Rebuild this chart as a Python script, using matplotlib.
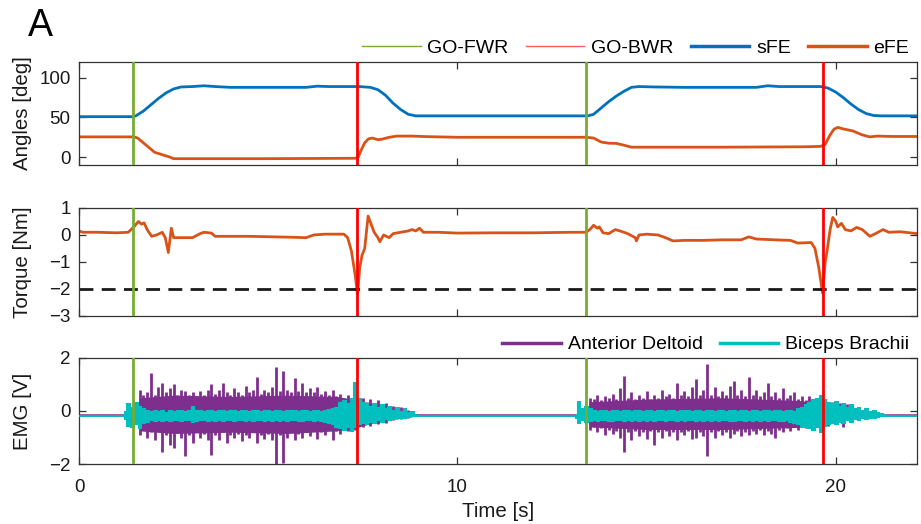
import numpy as np
import matplotlib
matplotlib.use('Agg')
from matplotlib import pyplot as plt
from matplotlib.lines import Line2D

plt.rcParams['font.family'] = ['Liberation Sans', 'DejaVu Sans']

# event times [s]
go_fwr = [1.43, 13.41]
go_bwr = [7.34, 19.65]

# joint angles [deg]
sfe_t = [0, 1.43, 1.5, 1.7, 1.9, 2.1, 2.3, 2.5, 2.7, 3.0, 3.3, 3.6, 4.0, 5.0, 6.0, 6.3, 6.6, 7.4, 7.7,
         7.9, 8.1, 8.3, 8.5, 8.7, 8.9, 9.2, 13.45, 13.6, 13.8, 14.0, 14.2, 14.4, 14.6, 14.8, 15.2, 16.0,
         17.0, 17.9, 18.2, 18.5, 19.6, 19.8, 20.0, 20.2, 20.4, 20.6, 20.8, 21.0, 21.2, 22.15]
sfe_v = [51, 51, 52, 58, 66, 74, 81, 86, 88.5, 89, 90, 89, 88, 88, 88, 89.5, 89, 89, 88,
         85, 78, 68, 60, 54, 52, 52, 52, 54, 62, 70, 77, 83, 88, 89, 88.5, 88,
         88, 88, 90, 89, 89, 87, 82, 75, 67, 60, 55, 52.5, 52, 52]
efe_t = [0, 1.45, 1.55, 1.7, 1.9, 2.0, 2.2, 2.4, 2.5, 3.0, 5.0, 7.3, 7.38, 7.45, 7.55, 7.65, 7.75, 7.9,
         8.0, 8.2, 8.4, 8.8, 9.2, 10.0, 13.41, 13.6, 13.8, 14.0, 14.2, 14.4, 14.6, 15.5, 17.0, 19.2,
         19.6, 19.72, 19.85, 19.95, 20.05, 20.2, 20.45, 20.7, 20.9, 21.1, 21.5, 22.15]
efe_v = [25.5, 25.5, 24, 18, 10, 6, 3, 0, -2, -2, -2, -1.5, 0, 8, 18, 23, 24, 22,
         22.5, 25, 26.5, 26.5, 25.8, 25, 25, 24, 19, 17.5, 17.3, 15, 12.5, 12.5, 12.5, 13,
         13.5, 16, 28, 35, 37.5, 35.5, 33, 28, 25.5, 26.5, 26, 26]

# elbow torque [Nm]
tq_t = [0.0, 0.1, 0.5, 1.0, 1.3, 1.45, 1.57, 1.65, 1.72, 1.8, 1.92, 2.05, 2.2, 2.28, 2.36, 2.4, 2.44,
        2.5, 3.0, 3.2, 3.3, 3.5, 3.6, 4.5, 5.5, 6.0, 6.2, 6.5, 7.0, 7.1, 7.2, 7.3, 7.36, 7.42, 7.48,
        7.55, 7.64, 7.72, 7.8, 7.9, 7.95, 8.05, 8.2, 8.3, 8.5, 8.7, 8.8, 8.9, 9.0, 9.1, 9.5, 10.0,
        11.0, 12.0, 13.0, 13.4, 13.5, 13.6, 13.7, 13.75, 13.85, 14.0, 14.17, 14.3, 14.5, 14.7, 14.73,
        14.8, 15.0, 15.3, 15.5, 15.7, 16.0, 16.5, 17.0, 17.5, 17.7, 17.9, 18.4, 18.8, 19.0, 19.35,
        19.45, 19.55, 19.65, 19.72, 19.77, 19.85, 19.92, 20.0, 20.05, 20.15, 20.25, 20.4, 20.55,
        20.7, 20.9, 21.05, 21.25, 21.4, 21.7, 22.15]
tq_v = [0.15, 0.1, 0.1, 0.08, 0.1, 0.3, 0.5, 0.4, 0.45, 0.2, -0.05, 0.0, 0.1, -0.1, -0.65, -0.2, 0.25,
        -0.1, -0.1, 0.05, 0.1, 0.07, -0.05, -0.05, -0.08, -0.1, 0.0, 0.03, 0.03, -0.1, -0.6, -1.5, -2.2,
        -1.2, -0.75, -0.5, 0.7, 0.4, 0.1, -0.1, -0.25, 0.0, -0.1, 0.05, 0.1, 0.15, 0.2, 0.15, 0.25,
        0.1, 0.1, 0.07, 0.08, 0.08, 0.1, 0.1, 0.2, 0.36, 0.25, 0.3, 0.08, 0.05, 0.2, 0.15, 0.05, -0.1,
        -0.22, 0.0, 0.03, 0.0, -0.1, -0.22, -0.2, -0.2, -0.18, -0.18, -0.07, -0.15, -0.18, -0.2,
        -0.3, -0.28, -0.5, -1.2, -2.15, -1.0, -0.6, 0.2, 0.65, 0.5, 0.3, 0.43, 0.2, 0.15, 0.28, 0.2,
        -0.05, 0.05, 0.2, 0.1, 0.12, 0.05]
tq_limit = -2

# EMG [V]: quiet levels, dense core of each burst, and per 0.1 s bin peaks
emg_quiet_ad = -0.15
emg_quiet_bb = -0.17

ad_core_t = [1.5, 1.6, 2.5, 4.0, 5.5, 6.8, 7.4, 8.0, 8.9,
             13.4, 13.5, 15.0, 17.0, 19.0, 19.7, 20.6]
ad_core_hi = [-0.1, 0.5, 0.6, 0.55, 0.6, 0.55, 0.4, 0.15, -0.1,
              -0.1, 0.35, 0.45, 0.5, 0.4, 0.3, -0.1]
ad_core_lo = [-0.2, -0.75, -0.85, -0.8, -0.85, -0.75, -0.6, -0.35, -0.2,
              -0.2, -0.6, -0.7, -0.7, -0.62, -0.5, -0.2]

ad1_start = 1.5
ad1_hi = [0.0, 0.8, 0.6, 0.7, 1.45, 0.6, 0.9, 1.05, 0.7, 0.85, 1.0, 0.6, 0.8, 0.75, 0.6, 0.7, 0.55,
          0.75, 0.6, 0.8, 1.0, 0.65, 0.8, 1.05, 0.7, 0.6, 0.85, 0.7, 0.6, 0.95, 0.7, 0.8, 1.3, 0.65,
          0.8, 0.7, 0.9, 1.65, 0.75, 1.5, 0.8, 0.7, 1.25, 0.75, 1.05, 0.7, 0.85, 0.7, 0.9, 0.65, 0.75,
          0.6, 0.8, 0.55, 0.65, 0.5, 0.6, 0.5, 0.55, 0.45, 0.5, 0.35, 0.45, 0.3, 0.4, 0.25, 0.3, 0.15,
          0.2, 0.1, 0.15, 0.0, 0.05, -0.05, -0.1]
ad1_lo = [-0.3, -0.9, -0.7, -1.0, -0.8, -1.1, -0.75, -1.55, -0.9, -1.3, -1.4, -0.8, -1.0, -1.7,
          -0.9, -1.2, -0.8, -1.0, -0.85, -1.1, -1.65, -0.9, -1.1, -0.8, -1.2, -0.9, -1.0, -0.85,
          -1.15, -0.9, -1.0, -0.8, -1.2, -0.9, -1.05, -0.85, -1.1, -2.0, -0.9, -1.95, -1.0, -0.8,
          -1.1, -0.85, -1.0, -0.8, -0.95, -0.75, -1.05, -0.8, -0.9, -0.7, -1.1, -0.75, -0.85, -0.7,
          -0.75, -0.6, -0.7, -0.55, -0.6, -0.5, -0.55, -0.45, -0.5, -0.4, -0.45, -0.35, -0.35, -0.3,
          -0.3, -0.25, -0.25, -0.2, -0.2]

bb1_start = 1.2
bb1_hi = [0.0, 0.3, 0.15, 0.35, 0.2, 0.1, 0.05, 0.0, 0.05, 0.0, 0.02, -0.02, 0.03, 0.0, 0.02, 0.05,
          0.0, 0.03, 0.2, 0.05, 0.02, 0.0, 0.03, 0.05, 0.0, 0.02, 0.05, 0.0, 0.03, 0.05, 0.0, 0.04,
          0.02, 0.0, 0.05, 0.03, 0.0, 0.05, 0.02, 0.0, 0.05, 0.03, 0.0, 0.05, 0.02, 0.04, 0.0, 0.05,
          0.02, 0.0, 0.05, 0.03, 0.0, 0.05, 0.08, 0.1, 0.15, 0.35, 0.4, 0.3, 0.5, 1.08, 0.5, 0.35,
          0.3, 0.2, 0.3, 0.15, 0.25, 0.1, 0.2, 0.05, 0.15, 0.0, 0.1, -0.05, 0.0, -0.1]
bb1_lo = [-0.3, -0.55, -0.6, -0.5, -0.65, -0.45, -0.4, -0.35, -0.38, -0.33, -0.36, -0.34, -0.38,
          -0.35, -0.33, -0.37, -0.35, -0.34, -0.4, -0.36, -0.33, -0.35, -0.38, -0.34, -0.36, -0.33,
          -0.37, -0.35, -0.34, -0.38, -0.35, -0.33, -0.36, -0.35, -0.37, -0.34, -0.33, -0.36, -0.35,
          -0.38, -0.34, -0.36, -0.33, -0.37, -0.35, -0.34, -0.36, -0.38, -0.35, -0.33, -0.36, -0.34,
          -0.37, -0.4, -0.45, -0.5, -0.6, -0.65, -0.7, -0.6, -0.75, -0.6, -0.5, -0.45, -0.5, -0.4,
          -0.45, -0.35, -0.4, -0.3, -0.35, -0.3, -0.28, -0.25, -0.25, -0.22, -0.2, -0.2]

ad2_start = 13.4
ad2_hi = [-0.1, 0.5, 0.45, 0.6, 0.4, 0.55, 0.5, 0.65, 0.45, 0.85, 1.33, 0.5, 0.7, 0.45, 0.6, 0.5,
          0.75, 0.45, 0.6, 0.5, 0.8, 0.55, 0.65, 0.5, 1.07, 0.6, 0.75, 0.55, 0.9, 1.2, 0.6, 0.8, 1.77,
          0.6, 0.9, 0.55, 0.75, 0.6, 0.95, 1.15, 0.6, 0.8, 0.55, 1.27, 0.6, 0.8, 0.55, 0.7, 1.07,
          0.55, 0.7, 0.5, 0.85, 0.5, 0.6, 0.7, 0.45, 0.55, 0.4, 0.55, 0.35, 0.45, 0.3, 0.4, 0.3, 0.35,
          0.25, 0.3, 0.15, 0.25, 0.05, 0.1, -0.1]
ad2_lo = [-0.25, -0.7, -0.6, -0.8, -0.65, -0.9, -0.7, -0.85, -0.75, -1.0, -1.53, -0.8, -1.1, -0.75,
          -0.95, -0.8, -1.05, -0.75, -1.3, -0.8, -1.0, -0.75, -0.95, -0.8, -1.1, -0.8, -0.9, -0.75,
          -1.05, -1.0, -0.8, -0.95, -1.7, -0.8, -1.0, -0.75, -0.9, -0.8, -1.0, -0.85, -0.75, -0.95,
          -0.8, -0.9, -0.75, -0.85, -0.7, -0.9, -0.75, -0.85, -1.0, -0.7, -0.8, -0.65, -0.75, -0.6,
          -0.7, -0.6, -0.65, -0.55, -0.6, -0.55, -0.6, -0.5, -0.55, -0.45, -0.5, -0.4, -0.6, -0.35,
          -0.3, -0.25, -0.2]

bb2_start = 13.1
bb2_hi = [-0.1, 0.37, 0.1, 0.2, 0.1, 0.05, 0.0, 0.03, 0.05, 0.0, 0.02, 0.05, 0.0, 0.03, 0.05, 0.0,
          0.04, 0.02, 0.0, 0.05, 0.03, 0.0, 0.05, 0.02, 0.0, 0.04, 0.05, 0.0, 0.03, 0.02, 0.05, 0.0,
          0.03, 0.05, 0.0, 0.02, 0.04, 0.0, 0.05, 0.03, 0.0, 0.05, 0.02, 0.0, 0.04, 0.05, 0.0, 0.03,
          0.05, 0.0, 0.02, 0.05, 0.0, 0.03, 0.05, 0.0, 0.04, 0.02, 0.0, 0.1, 0.15, 0.25, 0.35, 0.45,
          0.5, 0.6, 0.45, 0.35, 0.3, 0.37, 0.2, 0.3, 0.15, 0.25, 0.1, 0.15, 0.05, 0.1, 0.0, 0.02,
          -0.05, -0.08, -0.12]
bb2_lo = [-0.25, -0.45, -0.35, -0.4, -0.36, -0.34, -0.37, -0.35, -0.33, -0.36, -0.38, -0.34, -0.35,
          -0.37, -0.33, -0.36, -0.35, -0.38, -0.34, -0.36, -0.33, -0.37, -0.35, -0.34, -0.38, -0.35,
          -0.33, -0.36, -0.35, -0.37, -0.34, -0.33, -0.36, -0.35, -0.38, -0.34, -0.36, -0.33, -0.37,
          -0.35, -0.34, -0.36, -0.38, -0.35, -0.33, -0.36, -0.34, -0.37, -0.35, -0.36, -0.33, -0.38,
          -0.35, -0.34, -0.36, -0.37, -0.35, -0.4, -0.45, -0.5, -0.55, -0.6, -0.65, -0.7, -0.6, -0.8,
          -0.55, -0.5, -0.45, -0.5, -0.4, -0.45, -0.35, -0.4, -0.3, -0.35, -0.28, -0.3, -0.25, -0.25,
          -0.22, -0.2, -0.2]

BLUE = '#0072BD'
ORANGE = '#D95319'
GREEN = '#77AC30'
RED = '#FF0000'
PURPLE = '#7E2F8E'
CYAN = '#00BFBF'
AXC = '#333333'
TXT = '#1a1a1a'
T_END = 22.15
FS = 13.5


def bins(start, n):
    return start + 0.1 * np.arange(n)


def style(ax, yticks, ylim, ylabel):
    ax.set_xlim(0, T_END)
    ax.set_ylim(*ylim)
    ax.set_yticks(yticks)
    ax.set_xticks([0, 10, 20])
    ax.tick_params(direction='in', top=True, right=True, length=5, width=0.9, pad=6,
                   labelsize=FS, colors=AXC, labelcolor=TXT)
    ax.tick_params(axis='x', pad=11)
    for s in ax.spines.values():
        s.set_color(AXC)
        s.set_linewidth(0.9)
    ax.set_ylabel(ylabel, fontsize=14.8, color=TXT)
    ax.yaxis.set_label_coords(-0.056, 0.5)


def events(ax):
    for t in go_fwr:
        ax.axvline(t, color=GREEN, lw=2, zorder=5)
    for t in go_bwr:
        ax.axvline(t, color=RED, lw=2, zorder=5)


def legend(ax, handles, labels):
    ax.legend(handles, labels, ncols=len(handles), frameon=False, loc='lower right',
              bbox_to_anchor=(1.0, 0.97), borderaxespad=0, fontsize=14, handlelength=3.0,
              handletextpad=0.35, columnspacing=0.9)


fig = plt.figure(figsize=(9.21, 5.24), dpi=100)
ax1 = fig.add_axes([0.0858, 0.6851, 0.910, 0.1966])
ax2 = fig.add_axes([0.0858, 0.3970, 0.910, 0.2061])
ax3 = fig.add_axes([0.0858, 0.1145, 0.910, 0.2023])

# angles
ax1.plot(sfe_t, sfe_v, color=BLUE, lw=2)
ax1.plot(efe_t, efe_v, color=ORANGE, lw=2)
events(ax1)
style(ax1, [0, 50, 100], (-10, 120), 'Angles [deg]')
ax1.set_xticklabels([])
legend(ax1, [Line2D([], [], color=GREEN, lw=1), Line2D([], [], color='#ff5a5a', lw=1),
             Line2D([], [], color=BLUE, lw=2.5), Line2D([], [], color=ORANGE, lw=2.5)],
       ['GO-FWR', 'GO-BWR', 'sFE', 'eFE'])

# torque
ax2.plot(tq_t, tq_v, color=ORANGE, lw=2)
ax2.axhline(tq_limit, color=TXT, lw=2, ls=(0, (5, 3)))
events(ax2)
style(ax2, [-3, -2, -1, 0, 1], (-3, 1), 'Torque [Nm]')
ax2.set_xticklabels([])

# EMG
ax3.plot([0, T_END], [emg_quiet_ad, emg_quiet_ad], color=PURPLE, lw=1.8, zorder=2)
ax3.fill_between(ad_core_t[:9], ad_core_lo[:9], ad_core_hi[:9], color=PURPLE, lw=0, zorder=2)
ax3.fill_between(ad_core_t[9:], ad_core_lo[9:], ad_core_hi[9:], color=PURPLE, lw=0, zorder=2)
ax3.vlines(bins(ad1_start, len(ad1_hi)), ad1_lo, ad1_hi, color=PURPLE, lw=2.0, zorder=2)
ax3.vlines(bins(ad2_start, len(ad2_hi)), ad2_lo, ad2_hi, color=PURPLE, lw=2.0, zorder=2)
ax3.plot([0, T_END], [emg_quiet_bb, emg_quiet_bb], color=CYAN, lw=1.3, zorder=3)
ax3.fill_between(bins(bb1_start, len(bb1_hi)), bb1_lo, bb1_hi, step='mid', color=CYAN, lw=0.8,
                 edgecolor=CYAN, zorder=3)
ax3.fill_between(bins(bb2_start, len(bb2_hi)), bb2_lo, bb2_hi, step='mid', color=CYAN, lw=0.8,
                 edgecolor=CYAN, zorder=3)
events(ax3)
style(ax3, [-2, 0, 2], (-2, 2), 'EMG [V]')
ax3.set_xlabel('Time [s]', fontsize=14.8, color=TXT, labelpad=4)
legend(ax3, [Line2D([], [], color=PURPLE, lw=2.5), Line2D([], [], color=CYAN, lw=2.5)],
       ['Anterior Deltoid', 'Biceps Brachii'])

fig.text(0.03, 0.985, 'A', fontsize=27, va='top', ha='left')

fig.savefig('out.png', dpi=100)
